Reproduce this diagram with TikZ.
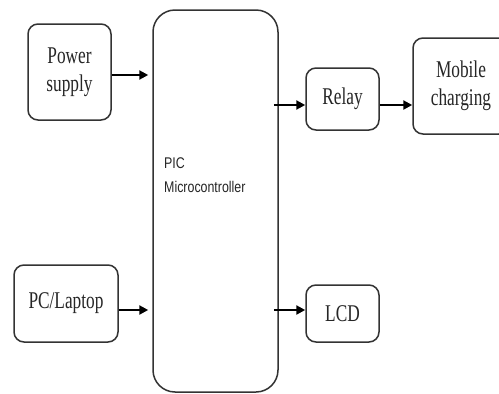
\documentclass[tikz,border=0pt]{standalone}
\usepackage{fontspec}
\setmainfont{Liberation Serif}
\newfontfamily\boxfont[FakeStretch=0.72]{Liberation Serif}
\newfontfamily\picfont[FakeStretch=0.8]{Liberation Sans}
\usetikzlibrary{arrows.meta}
\begin{document}
\begin{tikzpicture}[x=1pt,y=-1pt,
  blk/.style={draw=black!80, line width=1.5pt, rounded corners=10pt, inner sep=0pt,
    align=center, text=black!85, font=\boxfont\fontsize{24}{28}\selectfont},
  arr/.style={draw=black, line width=2.2pt, -{Triangle[length=9pt,width=9pt]}}]
\clip (0,0) rectangle (499,394);
\fill[white] (0,0) rectangle (499,394);
\node[blk, minimum width=83pt, minimum height=96pt] (ps) at (69.5,72) {Power\\supply};
\node[blk, minimum width=104pt, minimum height=77pt] (pc) at (66,303.5) {PC/Laptop};
\node[blk, rounded corners=22pt, minimum width=125pt, minimum height=382pt] (pic) at (215.5,201) {};
\node[anchor=west, align=left, inner sep=0pt, text=black!85,
  font=\picfont\fontsize{15.5}{24}\selectfont] (pict) at (164,175) {PIC\\Microcontroller};
\node[blk, minimum width=73pt, minimum height=62pt] (relay) at (342.5,99) {Relay};
\node[blk, minimum width=96pt, minimum height=96pt] (mob) at (461,86) {Mobile\\charging};
\node[blk, minimum width=73pt, minimum height=57pt] (lcd) at (342.5,313.5) {LCD};
\coordinate (ya) at (0,75);
\coordinate (yb) at (0,310);
\coordinate (yc) at (0,105);
\draw[arr] (ps.east |- ya) -- ([xshift=-4pt]pic.west |- ya);
\draw[arr] (pc.east |- yb) -- ([xshift=-4pt]pic.west |- yb);
\draw[arr] ([xshift=-5pt]pic.east |- yc) -- (relay.west |- yc);
\draw[arr] (relay.east |- yc) -- (mob.west |- yc);
\draw[arr] ([xshift=-5pt]pic.east |- yb) -- (lcd.west |- yb);
\end{tikzpicture}
\end{document}
